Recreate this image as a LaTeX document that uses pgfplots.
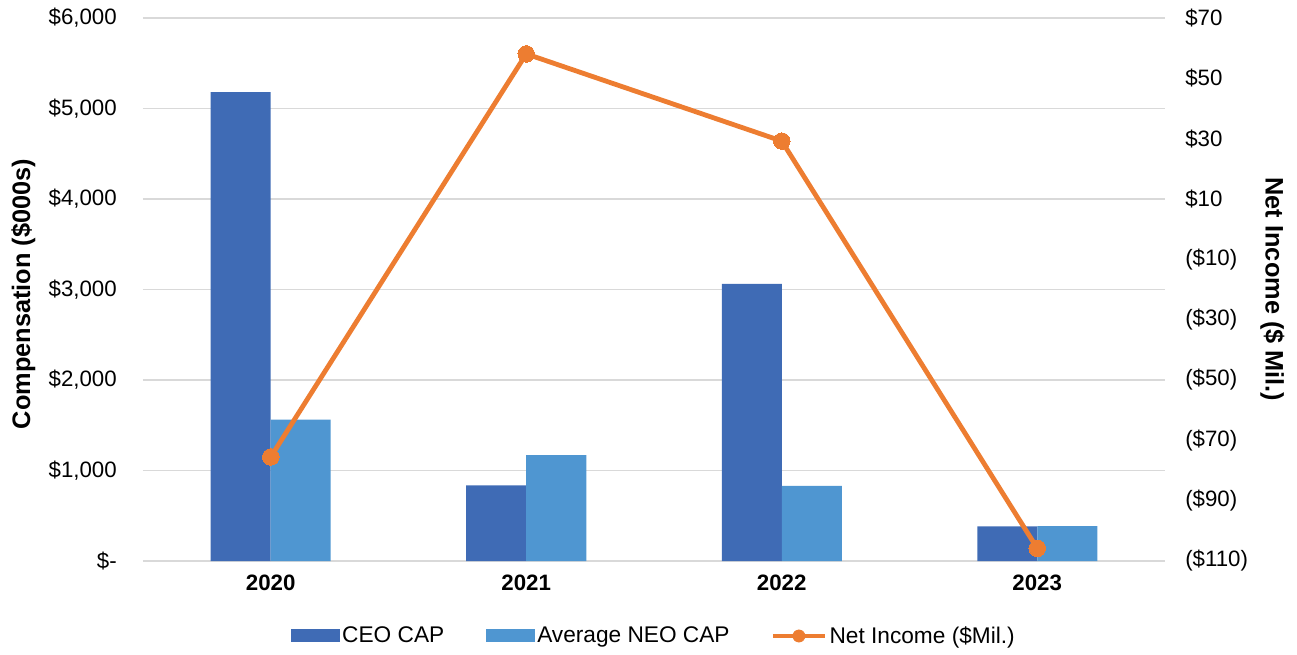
\documentclass[border=0pt]{standalone}
\usepackage{fontspec}
\setmainfont{Liberation Sans}
\usepackage{pgfplots}
\pgfplotsset{compat=1.18}
\definecolor{ceo}{HTML}{3F6BB5}
\definecolor{neo}{HTML}{4F96D1}
\definecolor{ni}{HTML}{ED7D31}
\definecolor{gridc}{HTML}{D9D9D9}
\begin{document}
\begin{tikzpicture}
\path[use as bounding box] (-107.25pt,-69.75pt) rectangle (865.5pt,420.75pt);
\begin{axis}[
  at={(0,0)}, anchor=south west,
  scale only axis, width=766.5pt, height=407.25pt,
  xmin=-0.5, xmax=3.5, ymin=0, ymax=6000,
  ybar=0pt, bar width=45pt,
  xtick={0,1,2,3},
  xticklabels={{\bfseries 2020},{\bfseries 2021},{\bfseries 2022},{\bfseries 2023}},
  ytick={0,1000,2000,3000,4000,5000,6000},
  yticklabels={{\$-},{\$1,000},{\$2,000},{\$3,000},{\$4,000},{\$5,000},{\$6,000}},
  ymajorgrids, major grid style={gridc, line width=1.1pt},
  axis line style={draw=none}, major tick length=0pt, tick style={draw=none},
  yticklabel style={anchor=east, inner xsep=0pt, xshift=-19.5pt, font=\fontsize{16.7}{20}\selectfont},
  xticklabel style={anchor=center, yshift=-16.5pt, inner ysep=0pt, font=\fontsize{16.7}{20}\selectfont},
  ylabel={\bfseries Compensation (\$000s)},
  every axis y label/.style={at={(axis description cs:-0.117,0.4917)}, anchor=center, rotate=90, font=\fontsize{19}{23}\selectfont},
  legend columns=3,
  legend style={at={(axis description cs:0.5,-0.1381)}, anchor=center, draw=none, fill=none,
    font=\fontsize{17}{20}\selectfont,
    /tikz/every even column/.append style={column sep=29pt},
    /tikz/every odd column/.append style={column sep=0pt},
    nodes={inner xsep=2pt}},
  legend cell align=left,
]
\addplot[fill=ceo, draw=none, legend image code/.code={\fill[ceo] (0pt,-4.875pt) rectangle (36.75pt,4.875pt);}]
  coordinates {(0,5182) (1,836) (2,3061) (3,383)};
\addlegendentry{CEO CAP}
\addplot[fill=neo, draw=none, legend image code/.code={\fill[neo] (0pt,-4.875pt) rectangle (36.75pt,4.875pt);}]
  coordinates {(0,1561) (1,1171) (2,829) (3,386)};
\addlegendentry{Average NEO CAP}
\addlegendimage{legend image code/.code={\draw[ni, line width=3pt] (0pt,0pt) -- (39pt,0pt); \fill[ni] (19.5pt,0pt) circle (4.6pt);}}
\addlegendentry{Net Income (\$Mil.)}
\end{axis}
\begin{axis}[
  at={(0,0)}, anchor=south west,
  scale only axis, width=766.5pt, height=407.25pt,
  xmin=-0.5, xmax=3.5, ymin=-110, ymax=70,
  axis x line=none, axis y line*=right,
  axis line style={draw=none}, major tick length=0pt, tick style={draw=none},
  ytick={-110,-90,-70,-50,-30,-10,10,30,50,70},
  yticklabels={{(\$110)},{(\$90)},{(\$70)},{(\$50)},{(\$30)},{(\$10)},{\$10},{\$30},{\$50},{\$70}},
  yticklabel style={anchor=west, inner xsep=0pt, xshift=15pt, font=\fontsize{16.7}{20}\selectfont},
  ylabel={\bfseries Net Income (\$ Mil.)},
  every axis y label/.style={at={(axis description cs:1.1052,0.5)}, anchor=center, rotate=-90, font=\fontsize{19}{23}\selectfont},
]
\addplot[ni, line width=3.6pt, mark=*, mark size=6.2pt, mark options={fill=ni, draw=ni, line width=0pt}]
  coordinates {(0,-75.5) (1,58.1) (2,29.2) (3,-105.8)};
\end{axis}
\end{tikzpicture}
\end{document}
